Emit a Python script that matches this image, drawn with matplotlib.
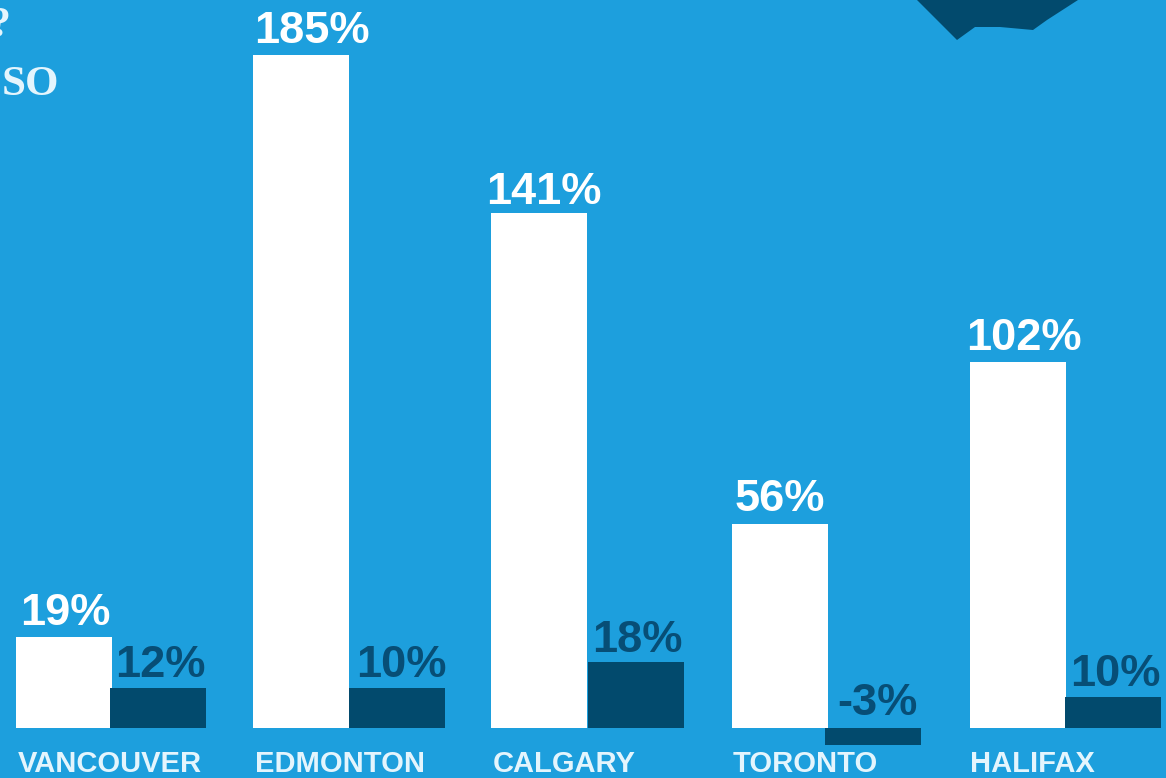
import numpy as np
import matplotlib
matplotlib.use('Agg')
import matplotlib.pyplot as plt
from matplotlib.patches import Polygon
from matplotlib.transforms import IdentityTransform

cities = ['VANCOUVER', 'EDMONTON', 'CALGARY', 'TORONTO', 'HALIFAX']
# the printed labels and the drawn bars don't agree everywhere, so keep both
white_labels = ['19%', '185%', '141%', '56%', '102%']
dark_labels = ['12%', '10%', '18%', '-3%', '10%']
white_heights = [25, 185, 141.6, 56, 100.6]
dark_heights = [11, 11, 18, -4.8, 8.6]

BG = '#1d9fdd'
DARK = '#024a6d'
DARK_TEXT = '#074e76'
PALE = '#e4f5fd'

W, H = 1166, 778
BASE_PX = 728
PX_PER_UNIT = 3.64
GROUP_PX = 238.5
FIRST_PX = 64
BAR_W = 96 / GROUP_PX

fig = plt.figure(figsize=(W / 100, H / 100), dpi=100, facecolor=BG)
ax = fig.add_axes([0, 0, 1, 1], facecolor=BG)
ax.set_xlim(-FIRST_PX / GROUP_PX, (W - FIRST_PX) / GROUP_PX)
ax.set_ylim(-(H - BASE_PX) / PX_PER_UNIT, BASE_PX / PX_PER_UNIT)
ax.axis('off')

plt.rcParams['font.family'] = ['Liberation Sans', 'DejaVu Sans']

# groups aren't evenly spaced in the source, so nudge them (screen pixels)
white_x = np.arange(len(cities)) + np.array([0, -1.5, -2, 0.5, 0]) / GROUP_PX
dark_x = white_x + np.array([94, 96, 97, 93, 95]) / GROUP_PX
ax.bar(white_x, white_heights, BAR_W, color='white', linewidth=0)
ax.bar(dark_x, dark_heights, BAR_W, color=DARK, linewidth=0)


def px_label(text, xval, yval, dx, dy, color, size, ha='center', weight='bold'):
    # offsets given in screen pixels, converted to points
    ax.annotate(text, (xval, yval), xytext=(dx * 0.72, dy * 0.72),
                textcoords='offset points', ha=ha, va='baseline',
                color=color, fontsize=size, fontweight=weight)


# nudges for the labels, the source placed these by hand
white_dx = [1, 11, 5, 0, 6]
white_dy = [12, 12, 9, 13, 12]
dark_dx = [2, 4, 1, 4, 2]
dark_dy = [11, 11, 10, 13, 11]
city_dx = [-46, -46, -46, -47, -48]

for i in range(len(cities)):
    px_label(white_labels[i], white_x[i], white_heights[i], white_dx[i], white_dy[i], 'white', 32.5)
    top = max(dark_heights[i], 0)
    px_label(dark_labels[i], dark_x[i], top, dark_dx[i], dark_dy[i], DARK_TEXT, 32.5)
    px_label(cities[i], white_x[i], 0, city_dx[i], -44, PALE, 21, ha='left')

# scraps of the cropped-off infographic
ax.text(2 / W, 1 - 95 / H, 'SO', transform=ax.transAxes, color=PALE, fontsize=31,
        family='Liberation Serif', fontweight='bold', va='baseline', ha='left')
ax.text(-11 / W, 1 - 36 / H, '?', transform=ax.transAxes, color=PALE, fontsize=30,
        family='Liberation Serif', fontweight='bold', va='baseline', ha='left')
shape = [(917, 0), (957, 40), (975, 27), (1000, 27), (1033, 30), (1047, 20), (1078, 0)]
ax.add_patch(Polygon([(px, H - py) for px, py in shape], closed=True, color=DARK,
                     linewidth=0, transform=IdentityTransform()))

fig.savefig('out.png', dpi=100, facecolor=BG)
